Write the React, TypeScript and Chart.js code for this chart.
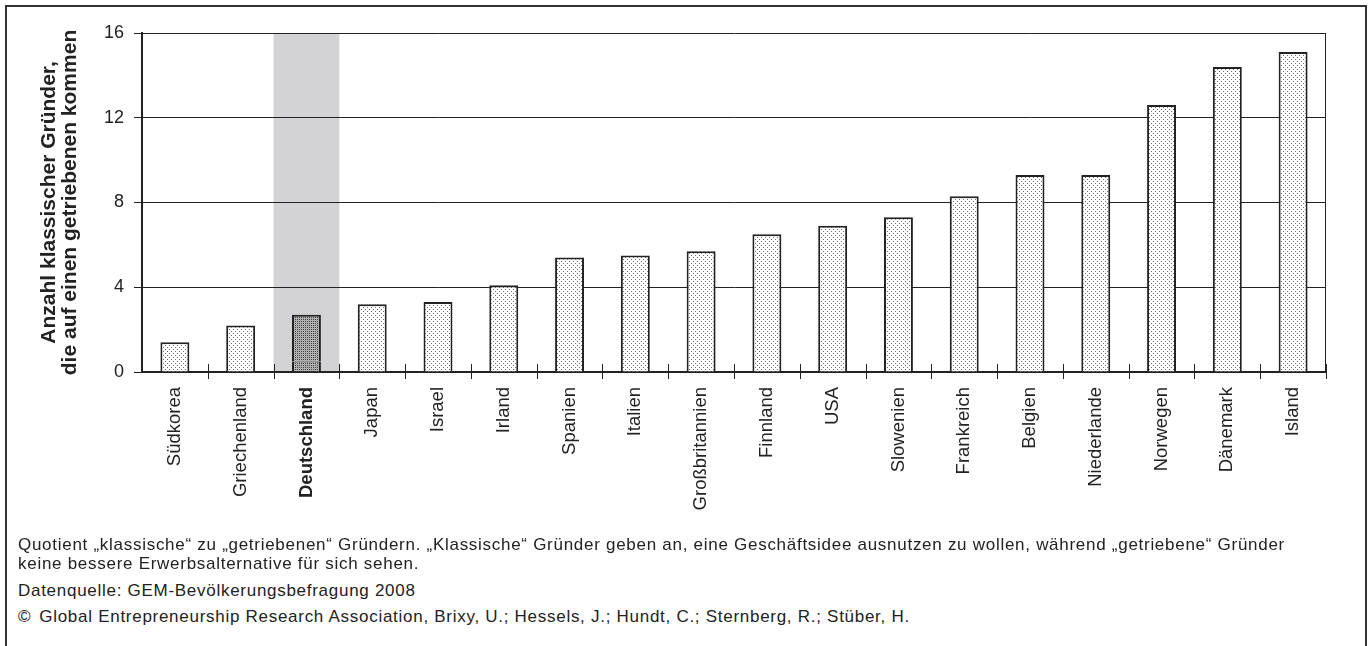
import React, { useEffect, useRef } from 'react';
import { Chart, registerables } from 'chart.js';

Chart.register(...registerables);

const categories: string[] = [
  'Südkorea', 'Griechenland', 'Deutschland', 'Japan', 'Israel', 'Irland', 'Spanien', 'Italien',
  'Großbritannien', 'Finnland', 'USA', 'Slowenien', 'Frankreich', 'Belgien', 'Niederlande',
  'Norwegen', 'Dänemark', 'Island',
];
const values: number[] = [1.4, 2.2, 2.7, 3.2, 3.3, 4.1, 5.4, 5.5, 5.7, 6.5, 6.9, 7.3, 8.3, 9.3, 9.3, 12.6, 14.4, 15.1];
const lowerSegment: (number | null)[] = [null, null, 0.5, null, null, null, null, null, null, null, null, null, null, null, null, null, null, null];
const highlightCategory = 'Deutschland';
const yTicks: number[] = [0, 4, 8, 12, 16];
const yTitle: string[] = ['Anzahl klassischer Gründer,', 'die auf einen getriebenen kommen'];
const noteLines: string[] = [
  'Quotient „klassische“ zu „getriebenen“ Gründern. „Klassische“ Gründer geben an, eine Geschäftsidee ausnutzen zu wollen, während „getriebene“ Gründer',
  'keine bessere Erwerbsalternative für sich sehen.',
];
const sourceLine = 'Datenquelle: GEM-Bevölkerungsbefragung 2008';
const copyrightLine = 'Global Entrepreneurship Research Association, Brixy, U.; Hessels, J.; Hundt, C.; Sternberg, R.; Stüber, H.';

const FONT = '"Liberation Sans", Arial, Helvetica, sans-serif';
const INK = '#222222';

function makePattern(bg: string, dot: string, pts: number[][]): CanvasPattern | string {
  const c = document.createElement('canvas');
  c.width = 4;
  c.height = 4;
  const g = c.getContext('2d');
  if (!g) return bg;
  g.fillStyle = bg;
  g.fillRect(0, 0, 4, 4);
  g.fillStyle = dot;
  pts.forEach(([x, y]) => g.fillRect(x, y, 1, 1));
  return g.createPattern(c, 'repeat') || bg;
}

export default function App() {
  const ref = useRef<HTMLCanvasElement>(null);

  useEffect(() => {
    if (!ref.current) return;
    const hiIdx = categories.indexOf(highlightCategory);
    const light = makePattern('#ffffff', '#6e6e6e', [[1, 1], [3, 3]]);
    const dark = makePattern('#b0b0b0', '#444444', [[1, 1], [3, 3], [1, 3], [3, 1]]);
    const upper = values.map((v, i) => (lowerSegment[i] != null ? v - (lowerSegment[i] as number) : v));

    const bandPlugin = {
      id: 'band',
      beforeDraw(chart: any) {
        const { ctx, chartArea, scales } = chart;
        const x = scales.x;
        const half = (x.getPixelForValue(1) - x.getPixelForValue(0)) / 2;
        const cx = x.getPixelForValue(hiIdx);
        ctx.save();
        ctx.fillStyle = '#d3d3d5';
        ctx.fillRect(cx - half, chartArea.top, half * 2, chartArea.bottom - chartArea.top);
        ctx.restore();
      },
      afterDraw(chart: any) {
        const { ctx, chartArea, scales } = chart;
        const x = scales.x;
        const half = (x.getPixelForValue(1) - x.getPixelForValue(0)) / 2;
        ctx.save();
        ctx.strokeStyle = INK;
        ctx.lineWidth = 1;
        ctx.beginPath();
        for (let i = 1; i <= categories.length; i++) {
          const bx = Math.round(x.getPixelForValue(i - 1) + half) + 0.5;
          ctx.moveTo(bx, chartArea.bottom - 8);
          ctx.lineTo(bx, chartArea.bottom + 7);
        }
        const rx = Math.round(chartArea.right) - 0.5;
        ctx.moveTo(rx, chartArea.top);
        ctx.lineTo(rx, chartArea.bottom);
        ctx.stroke();
        ctx.restore();
      },
    };

    const chart = new Chart(ref.current, {
      type: 'bar',
      data: {
        labels: categories,
        datasets: [
          {
            label: 'unten',
            data: lowerSegment as any,
            backgroundColor: dark as any,
            borderColor: INK,
            borderWidth: { top: 1, left: 2, right: 2, bottom: 0 } as any,
            borderSkipped: false as any,
            barPercentage: 0.44,
            categoryPercentage: 1,
          },
          {
            label: 'Quotient',
            data: upper,
            backgroundColor: (c: any) => (c.dataIndex === hiIdx ? dark : light) as any,
            borderColor: INK,
            borderWidth: 2,
            barPercentage: 0.44,
            categoryPercentage: 1,
          },
        ],
      },
      options: {
        animation: false,
        responsive: false,
        maintainAspectRatio: false,
        layout: { padding: { top: 33, right: 46, left: 0, bottom: 0 } },
        plugins: { legend: { display: false }, tooltip: { enabled: false } },
        scales: {
          x: {
            stacked: true,
            grid: { display: false, drawTicks: false },
            border: { display: true, color: INK, width: 2 },
            afterFit: (s: any) => { s.height = 168; },
            ticks: {
              autoSkip: false,
              minRotation: 90,
              maxRotation: 90,
              padding: 15,
              color: INK,
              font: (c: any) => ({ family: FONT, size: 18.5, weight: c.index === hiIdx ? 'bold' : 'normal' }) as any,
            },
          },
          y: {
            stacked: true,
            min: yTicks[0],
            max: yTicks[yTicks.length - 1],
            afterFit: (s: any) => { s.width = 142; },
            afterBuildTicks: (s: any) => { s.ticks = yTicks.map((v) => ({ value: v })); },
            grid: { color: INK, lineWidth: 1, tickLength: 8, tickColor: INK },
            border: { display: true, color: INK, width: 2 },
            ticks: { padding: 10, color: INK, font: { family: FONT, size: 18 } },
            title: {
              display: true,
              text: yTitle,
              color: INK,
              font: { family: FONT, size: 21, weight: 'bold', lineHeight: 1.0 },
              padding: { top: 39, bottom: 0 },
            },
          },
        },
      },
      plugins: [bandPlugin],
    });
    return () => chart.destroy();
  }, []);

  const textStyle: React.CSSProperties = {
    position: 'absolute',
    left: 18,
    fontFamily: FONT,
    fontSize: 17,
    letterSpacing: '0.72px',
    lineHeight: '19px',
    color: INK,
    whiteSpace: 'nowrap',
  };

  return (
    <div style={{ position: 'fixed', left: 0, top: 0, width: 1372, height: 646, overflow: 'hidden', background: '#fff' }}>
      <div style={{ position: 'absolute', left: 5, top: 5, width: 1358, height: 660, border: '2px solid #333' }} />
      <canvas ref={ref} width={1372} height={540} style={{ position: 'absolute', left: 0, top: 0, width: 1372, height: 540 }} />
      <div style={{ ...textStyle, top: 535 }}>
        {noteLines.map((l, i) => (<div key={i}>{l}</div>))}
      </div>
      <div style={{ ...textStyle, top: 581 }}>{sourceLine}</div>
      <div style={{ ...textStyle, top: 607 }}>
        <span>©</span><span style={{ marginLeft: 8 }}>{copyrightLine}</span>
      </div>
    </div>
  );
}
